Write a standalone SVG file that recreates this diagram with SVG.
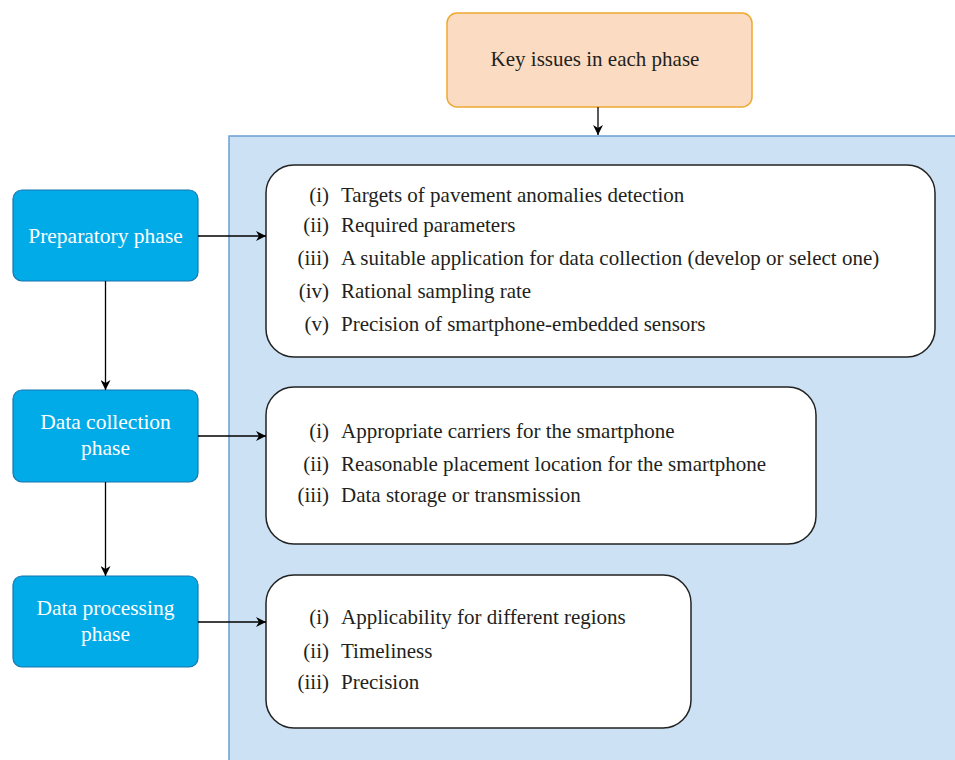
<svg xmlns="http://www.w3.org/2000/svg" width="955" height="760" viewBox="0 0 955 760">
  <style>
    .panel { fill: #cce2f4; stroke: #6a9fd4; stroke-width: 1.5; }
    .key { fill: #fbdcc2; stroke: #f0a830; stroke-width: 1.5; }
    .phase { fill: #00abe7; stroke: #1677b0; stroke-width: 1.2; }
    .list { fill: #ffffff; stroke: #222222; stroke-width: 1.5; }
    .ptxt { font-family: "Liberation Serif", "Times New Roman", serif; font-size: 21.5px; fill: #ffffff; text-anchor: middle; }
    .ktxt { font-family: "Liberation Serif", "Times New Roman", serif; font-size: 21px; fill: #231f20; text-anchor: middle; }
    .num { font-family: "Liberation Serif", "Times New Roman", serif; font-size: 21px; fill: #231f20; text-anchor: end; }
    .item { font-family: "Liberation Serif", "Times New Roman", serif; font-size: 21px; fill: #231f20; }
    .conn { stroke: #000000; stroke-width: 1.3; fill: none; marker-end: url(#arrow); }
  </style>
  <defs>
    <marker id="arrow" viewBox="0 0 10 10" refX="10" refY="5" markerWidth="10" markerHeight="10" markerUnits="userSpaceOnUse" orient="auto">
      <path d="M0,0 L10,5 L0,10 L3,5 Z" fill="#000000"/>
    </marker>
  </defs>

  <!-- background panel holding the issue lists -->
  <rect class="panel" x="229" y="136" width="740" height="640"/>

  <g id="key-issues">
    <rect class="key" x="447" y="13" width="305" height="94" rx="10"/>
    <text class="ktxt" x="595" y="66">Key issues in each phase</text>
  </g>

  <g id="preparatory-phase">
    <rect class="phase" x="13" y="190" width="185" height="91" rx="9"/>
    <text class="ptxt" x="105.5" y="243">Preparatory phase</text>
  </g>

  <g id="data-collection-phase">
    <rect class="phase" x="13" y="390" width="185" height="92" rx="9"/>
    <text class="ptxt" x="105.5" y="429">Data collection</text>
    <text class="ptxt" x="105.5" y="455">phase</text>
  </g>

  <g id="data-processing-phase">
    <rect class="phase" x="13" y="576" width="185" height="91" rx="9"/>
    <text class="ptxt" x="105.5" y="615">Data processing</text>
    <text class="ptxt" x="105.5" y="641">phase</text>
  </g>

  <g id="preparatory-issues">
    <rect class="list" x="266" y="165" width="669" height="192" rx="28"/>
    <text class="num" x="329" y="202">(i)</text><text class="item" x="341" y="202">Targets of pavement anomalies detection</text>
    <text class="num" x="329" y="232">(ii)</text><text class="item" x="341" y="232">Required parameters</text>
    <text class="num" x="329" y="265">(iii)</text><text class="item" x="341" y="265">A suitable application for data collection (develop or select one)</text>
    <text class="num" x="329" y="298">(iv)</text><text class="item" x="341" y="298">Rational sampling rate</text>
    <text class="num" x="329" y="331">(v)</text><text class="item" x="341" y="331">Precision of smartphone-embedded sensors</text>
  </g>

  <g id="collection-issues">
    <rect class="list" x="266" y="387" width="550" height="157" rx="28"/>
    <text class="num" x="329" y="438">(i)</text><text class="item" x="341" y="438">Appropriate carriers for the smartphone</text>
    <text class="num" x="329" y="471">(ii)</text><text class="item" x="341" y="471">Reasonable placement location for the smartphone</text>
    <text class="num" x="329" y="502">(iii)</text><text class="item" x="341" y="502">Data storage or transmission</text>
  </g>

  <g id="processing-issues">
    <rect class="list" x="266" y="575" width="425" height="153" rx="28"/>
    <text class="num" x="329" y="624">(i)</text><text class="item" x="341" y="624">Applicability for different regions</text>
    <text class="num" x="329" y="658">(ii)</text><text class="item" x="341" y="658">Timeliness</text>
    <text class="num" x="329" y="689">(iii)</text><text class="item" x="341" y="689">Precision</text>
  </g>

  <g id="connectors">
    <line class="conn" x1="598" y1="107" x2="598" y2="135"/>
    <line class="conn" x1="198" y1="236" x2="266" y2="236"/>
    <line class="conn" x1="198" y1="436" x2="266" y2="436"/>
    <line class="conn" x1="198" y1="622" x2="266" y2="622"/>
    <line class="conn" x1="105.5" y1="281" x2="105.5" y2="390"/>
    <line class="conn" x1="105.5" y1="482" x2="105.5" y2="576"/>
  </g>
</svg>
